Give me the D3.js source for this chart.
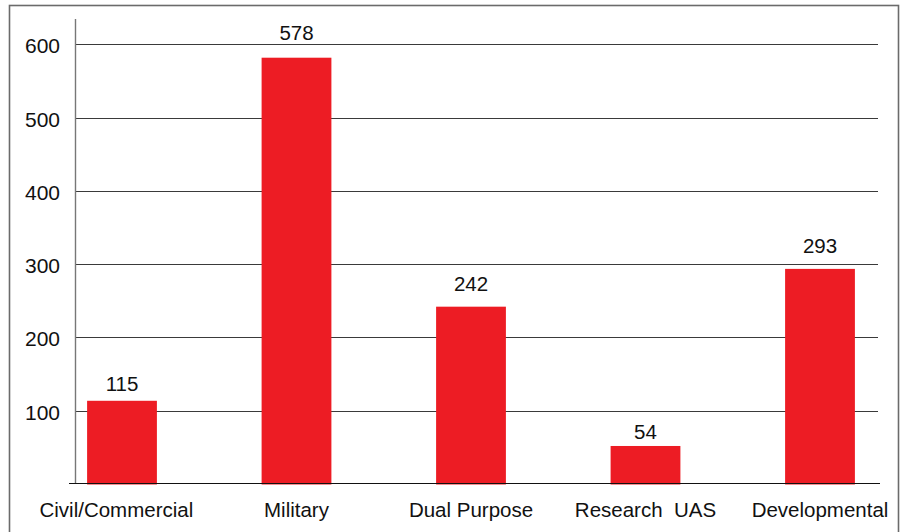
<!DOCTYPE html>
<html>
<head>
<meta charset="utf-8">
<script src="https://cdn.jsdelivr.net/npm/d3@7"></script>
<style>
  html, body { margin: 0; padding: 0; background: #fff; }
  svg { display: block; }
  text { font-family: "Liberation Sans", Arial, sans-serif; fill: #111; }
</style>
</head>
<body>
<svg id="chart" width="901" height="532"></svg>
<script>
const categories = ["Civil/Commercial", "Military", "Dual Purpose", "Research\u00a0 UAS", "Developmental"];
const values = [115, 578, 242, 54, 293];
const yTicks = [100, 200, 300, 400, 500, 600];

const svg = d3.select("#chart");

// frame
svg.append("rect")
  .attr("x", 9.5).attr("y", 5.5)
  .attr("width", 889).attr("height", 540)
  .attr("fill", "none").attr("stroke", "#6b6b6b").attr("stroke-width", 1.6);

const x = d3.scaleBand()
  .domain(categories)
  .range([34.75, 907.25])
  .paddingInner(0.6)
  .paddingOuter(0.3);

// axis / grid scale
const y = d3.scaleLinear().domain([0, 600]).range([484, 44.3]);
// bar scale (the source bars are drawn on a very slightly different scale)
const yBar = d3.scaleLinear().domain([0, 600]).range([486, 41.4]);

const plotLeft = 75, plotRight = 878;

// gridlines
svg.append("g").selectAll("line")
  .data(yTicks)
  .join("line")
  .attr("x1", plotLeft).attr("x2", plotRight)
  .attr("y1", d => Math.round(y(d)) + 0.5).attr("y2", d => Math.round(y(d)) + 0.5)
  .attr("stroke", "#3a3a3a").attr("stroke-width", 1.1);

// y axis line
svg.append("line")
  .attr("x1", plotLeft + 0.5).attr("x2", plotLeft + 0.5)
  .attr("y1", 19).attr("y2", y(0))
  .attr("stroke", "#777").attr("stroke-width", 1.4);

// y tick labels
svg.append("g").selectAll("text")
  .data(yTicks)
  .join("text")
  .attr("x", 60)
  .attr("y", d => y(d) + 9)
  .attr("text-anchor", "end")
  .attr("font-size", 21)
  .text(d => d);

// bars
svg.append("g").selectAll("rect")
  .data(values)
  .join("rect")
  .attr("x", (d, i) => x(categories[i]))
  .attr("width", x.bandwidth())
  .attr("y", d => yBar(d))
  .attr("height", d => y(0) + 0.5 - yBar(d))
  .attr("fill", "#ED1C24");

// baseline
svg.append("line")
  .attr("x1", 69).attr("x2", 880)
  .attr("y1", 483.5).attr("y2", 483.5)
  .attr("stroke", "#111").attr("stroke-width", 1.2);

// value labels
svg.append("g").selectAll("text")
  .data(values)
  .join("text")
  .attr("x", (d, i) => x(categories[i]) + x.bandwidth() / 2)
  .attr("y", d => yBar(d) - Math.min(17.5, 4 + 0.05 * d) + (d > 250 && d < 400 ? 2 : 0))
  .attr("text-anchor", "middle")
  .attr("font-size", 20.5)
  .text(d => d);

// category labels (first one starts at the left margin, the rest are centred)
svg.append("g").selectAll("text")
  .data(categories)
  .join("text")
  .attr("y", 516.5)
  .attr("font-size", 20.5)
  .attr("text-anchor", (d, i) => i === 0 ? "start" : "middle")
  .attr("x", (d, i) => i === 0 ? 39.5 : x(d) + x.bandwidth() / 2)
  .text(d => d);
</script>
</body>
</html>
